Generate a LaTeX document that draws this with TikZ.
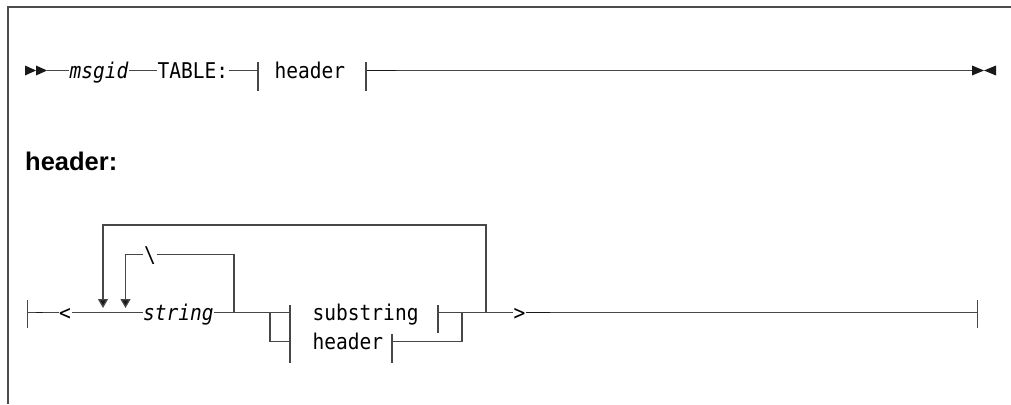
\documentclass[tikz,border=0pt]{standalone}
\usepackage{fontspec}
\setmonofont{DejaVu Sans Mono}[FakeStretch=0.9]
\newfontfamily\labelfont{Liberation Sans}
\usetikzlibrary{arrows.meta, positioning}

\begin{document}
\begin{tikzpicture}[
  x=1pt, y=-1pt,
  rail/.style={line width=1.3pt, black!72},
  dark/.style={line width=1.8pt, black!90},
  kw/.style={font=\fontsize{21.7}{22}\selectfont\ttfamily,
             inner xsep=0.5pt, inner ysep=0pt,
             text height=19pt, text depth=4pt, anchor=west},
  var/.style={kw, font=\fontsize{21.7}{22}\selectfont\ttfamily\itshape},
  loop/.style={rail, -{Triangle[length=9pt, width=10pt, fill=black!90]}},
]
  \useasboundingbox (0,0) rectangle (1011,404);
  \draw[line width=1.6pt, black!70] (8,404) -- (8,7) -- (1011,7);

  % main statement
  \coordinate (start) at (47,70.5);
  \node[var] (msgid) at (69,70.5) {msgid};
  \node[kw] (table) at (157,70.5) {TABLE:};
  \coordinate (hdrin) at (258,70.5);
  \node[kw] (hdrref) at (274,70.5) {header};
  \coordinate (hdrout) at (366,70.5);
  \coordinate (finish) at (972,70.5);
  \fill[black!90] (25,65.5) -- (36,70.5) -- (25,75.5) -- cycle;
  \fill[black!90] (36,65.5) -- (47,70.5) -- (36,75.5) -- cycle;
  \draw[rail] (start) -- (msgid);
  \draw[rail] (msgid) -- (table);
  \draw[rail] (table) -- (hdrin);
  \draw[rail] (hdrout) -- (finish);
  \draw[dark] (hdrout) -- ++(30,0);
  \draw[rail] (hdrin) ++(0,-8.5) -- ++(0,29);
  \draw[rail] (hdrout) ++(0,-8.5) -- ++(0,29);
  \fill[black!90] (972,65.5) -- (984,70.5) -- (972,75.5) -- cycle;
  \fill[black!90] (996,65.5) -- (984,70.5) -- (996,75.5) -- cycle;

  \node[font=\labelfont\bfseries\fontsize{25.5}{26}\selectfont,
        anchor=base west, inner sep=0pt] (title) at (25,170) {header:};

  % fragment
  \coordinate (lstart) at (27.5,312.5);
  \node[kw] (lt) at (58.5,312.5) {<};
  \coordinate (outertop) at (103,225);
  \coordinate (outertip) at (103,308);
  \coordinate (innertip) at (125.5,308);
  \node[var] (string) at (142.5,312.5) {string};
  \node[kw, anchor=center] (sep) at (150,254.5) {\textbackslash};
  \coordinate (innerout) at (234,312.5);
  \coordinate (split) at (270,312.5);
  \coordinate (grpin) at (290,312.5);
  \node[kw] (substr) at (312,312.5) {substring};
  \node[kw] (hdr) at (312,341.5) {header};
  \coordinate (subout) at (438,312.5);
  \coordinate (hdrend) at (392,341.5);
  \coordinate (merge) at (462,312.5);
  \coordinate (outerout) at (486,312.5);
  \node[kw] (gt) at (513,312.5) {>};
  \coordinate (lend) at (977.5,312.5);

  \draw[rail] (lstart) -- (lt);
  \draw[rail] (lt) -- (string);
  \draw[rail] (string) -- (grpin);
  \draw[rail] (split) |- (grpin |- hdr);
  \draw[rail] (subout) -- (gt);
  \draw[rail] (hdrend) -| (merge);
  \draw[rail] (gt) -- (lend);
  \draw[dark] (lstart) ++(8.5,0) -- ++(7,0);
  \draw[dark] (gt.east) -- ++(24,0);
  \draw[loop] (outerout) |- (outertop) -- (outertip);
  \draw[rail] (innerout) |- (sep);
  \draw[loop] (sep) -| (innertip);

  \draw[rail] (lstart) ++(0,-13) -- ++(0,28);
  \draw[rail] (grpin) ++(0,-7.5) -- ++(0,58);
  \draw[rail] (subout) ++(0,-7.5) -- ++(0,28);
  \draw[rail] (hdrend) ++(0,-7.5) -- ++(0,29);
  \draw[rail] (lend) ++(0,-12.5) -- ++(0,28);
\end{tikzpicture}
\end{document}
